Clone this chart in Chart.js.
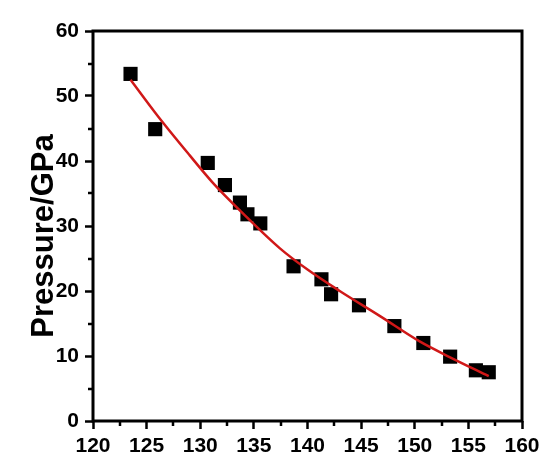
<!DOCTYPE html>
<html>
<head>
<meta charset="utf-8">
<script src="https://cdn.jsdelivr.net/npm/chart.js@4/dist/chart.umd.min.js"></script>
<style>
  html, body { margin: 0; padding: 0; background: #fff; }
  #chart { display: block; }
</style>
</head>
<body>
<canvas id="chart" width="556" height="467"></canvas>
<script>
// measured points (volume, pressure)
var volume = [123.5, 125.8, 130.7, 132.3, 133.7, 134.4, 135.6, 138.7, 141.3, 142.2, 144.8, 148.1, 150.8, 153.3, 155.7, 156.9];
var pressure = [53.4, 44.9, 39.7, 36.3, 33.6, 31.8, 30.4, 23.8, 21.8, 19.5, 17.8, 14.6, 12.0, 9.9, 7.8, 7.5];

// red fit line
var fitVolume = [123.5, 126, 129, 131.2, 134, 137.4, 140, 143, 146.8, 150.5, 153.3, 156.9];
var fitPressure = [52.5, 47.0, 40.9, 36.6, 31.9, 26.6, 23.3, 20.0, 16.1, 12.2, 9.8, 6.9];

// axes
var xMin = 120, xMax = 160, xStep = 5;
var yMin = 0, yMax = 60, yStep = 10;
var yTitle = 'Pressure/GPa';

var fontFamily = '"Liberation Sans", Arial, sans-serif';

function toPoints(xs, ys) {
    var pts = [];
    for (var i = 0; i < xs.length; i++) {
        pts.push({ x: xs[i], y: ys[i] });
    }
    return pts;
}

// frame round the plot, minor ticks, and the y title (sits a bit below centre in the original)
var framePlugin = {
    id: 'frame',
    afterDraw: function (chart) {
        var ctx = chart.ctx;
        var a = chart.chartArea;
        var xs = chart.scales.x, ys = chart.scales.y;
        ctx.save();
        ctx.strokeStyle = '#000';
        ctx.lineWidth = 2.5;
        var v, p;
        for (v = xMin + xStep / 2; v < xMax; v += xStep) {
            p = Math.round(xs.getPixelForValue(v));
            ctx.beginPath();
            ctx.moveTo(p, a.bottom);
            ctx.lineTo(p, a.bottom + 5);
            ctx.stroke();
        }
        for (v = yMin + yStep / 2; v < yMax; v += yStep) {
            p = Math.round(ys.getPixelForValue(v));
            ctx.beginPath();
            ctx.moveTo(a.left, p);
            ctx.lineTo(a.left - 5, p);
            ctx.stroke();
        }
        ctx.lineWidth = 3;
        ctx.strokeRect(a.left, a.top, a.right - a.left, a.bottom - a.top);

        ctx.translate(44.5, (a.top + a.bottom) / 2 + 10);
        ctx.rotate(-Math.PI / 2);
        ctx.fillStyle = '#000';
        ctx.font = 'bold 31px ' + fontFamily;
        ctx.textAlign = 'center';
        ctx.textBaseline = 'middle';
        ctx.fillText(yTitle, 0, 0);
        ctx.restore();
    }
};

var ctx = document.getElementById('chart');
var myChart = new Chart(ctx, {
    type: 'scatter',
    data: {
        datasets: [{
            type: 'line',
            label: 'fit',
            data: toPoints(fitVolume, fitPressure),
            borderColor: '#d01818',
            borderWidth: 2.5,
            pointRadius: 0,
            fill: false,
            cubicInterpolationMode: 'monotone',
            order: 0
        }, {
            label: 'data',
            data: toPoints(volume, pressure),
            pointStyle: 'rect',
            pointRadius: 10,
            pointBorderWidth: 0,
            backgroundColor: '#000',
            borderColor: '#000',
            order: 1
        }]
    },
    options: {
        responsive: false,
        animation: false,
        events: [],
        layout: { padding: { top: 31, right: 34, left: 0, bottom: 0 } },
        plugins: {
            legend: { display: false },
            tooltip: { enabled: false }
        },
        scales: {
            x: {
                type: 'linear',
                min: xMin,
                max: xMax,
                afterFit: function (scale) { scale.height = 46; },
                border: { display: false },
                grid: {
                    drawOnChartArea: false,
                    drawTicks: true,
                    tickLength: 8,
                    tickWidth: 2.5,
                    tickColor: '#000'
                },
                ticks: {
                    stepSize: xStep,
                    padding: 5,
                    maxRotation: 0,
                    color: '#000',
                    font: { family: fontFamily, size: 21, weight: 'bold' }
                }
            },
            y: {
                type: 'linear',
                min: yMin,
                max: yMax,
                afterFit: function (scale) { scale.width = 93; },
                border: { display: false },
                grid: {
                    drawOnChartArea: false,
                    drawTicks: true,
                    tickLength: 8,
                    tickWidth: 2.5,
                    tickColor: '#000'
                },
                ticks: {
                    stepSize: yStep,
                    padding: 6,
                    color: '#000',
                    font: { family: fontFamily, size: 21, weight: 'bold' }
                }
            }
        }
    },
    plugins: [framePlugin]
});
</script>
</body>
</html>
